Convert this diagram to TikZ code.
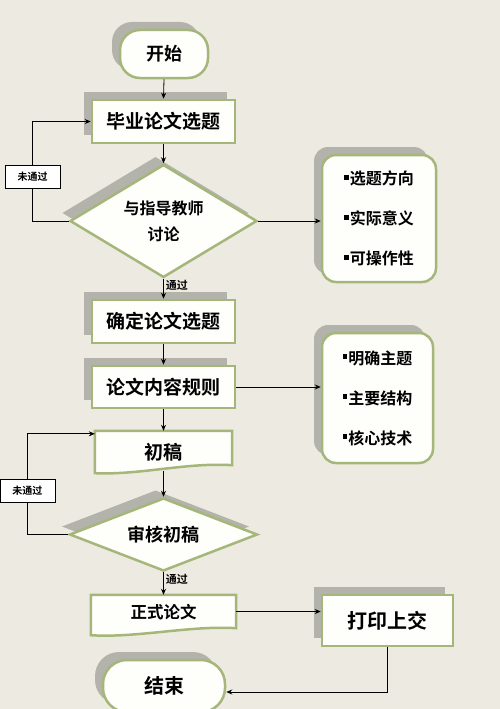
\documentclass[tikz,border=0pt]{standalone}
\usepackage{fontspec}
\setmainfont{Noto Sans CJK SC}[BoldFont={Noto Sans CJK SC Bold}]
\usetikzlibrary{shapes.geometric,shadows,arrows.meta,calc}
\definecolor{bg}{HTML}{EDEBE1}
\definecolor{olive}{HTML}{A5B67A}
\definecolor{shadowgray}{HTML}{B3B3AB}
\definecolor{boxfill}{HTML}{FEFEFA}
\newcommand{\bul}{\rule[0.32em]{0.3em}{0.3em}\hspace{1pt}}
\tikzset{
  shad/.style={drop shadow={shadow xshift=-8pt,shadow yshift=8pt,opacity=1,fill=shadowgray}},
  fsz/.style={font=\bfseries\fontsize{#1}{#1}\selectfont},
  procbox/.style={rectangle,draw=olive,line width=2.5pt,fill=boxfill,shad,inner sep=0pt},
  termbox/.style={procbox,rounded corners=20pt},
  listbox/.style={procbox,rounded corners=14pt,align=left,font=\bfseries\fontsize{16}{40}\selectfont},
  decbox/.style={diamond,draw=olive,line width=2.5pt,fill=boxfill,shad,inner sep=0pt,align=center},
  docnode/.style={rectangle,inner sep=0pt},
  docline/.style={draw=olive,line width=2.5pt,fill=boxfill},
  docshadow/.style={fill=shadowgray},
  arr/.style={-{Stealth[length=6pt,width=5pt]},line width=0.8pt,black},
  conn/.style={line width=0.8pt,black},
  failbox/.style={rectangle,draw=black,line width=0.6pt,fill=white,minimum width=55pt,minimum height=23pt,inner sep=0pt,fsz=10},
  passlab/.style={fsz=11,right,inner sep=2pt}
}
\begin{document}
\begin{tikzpicture}[x=1pt,y=-1pt]
\fill[bg] (0,0) rectangle (500,709);
\useasboundingbox (0,0) rectangle (500,709);

% nodes
\node[termbox,minimum width=88pt,minimum height=48pt,fsz=18] (start) at (164,54) {开始};
\node[procbox,minimum width=143pt,minimum height=43pt,fsz=19] (sel) at (163.5,121.5) {毕业论文选题};
\node[decbox,minimum width=187pt,minimum height=113pt,aspect=1.65,fsz=16] (disc) at (163.5,221) {与指导教师\\[10pt]讨论};
\node[listbox,minimum width=114pt,minimum height=127pt] (r1) at (379,218.5) {\bul 选题方向\\\bul 实际意义\\\bul 可操作性};
\node[procbox,minimum width=143pt,minimum height=43pt,fsz=19] (fix) at (163.5,321.5) {确定论文选题};
\node[procbox,minimum width=143pt,minimum height=42pt,fsz=19] (plan) at (163.5,387) {论文内容规则};
\node[listbox,minimum width=111pt,minimum height=130pt] (r2) at (377.5,398) {\bul 明确主题\\\bul 主要结构\\\bul 核心技术};

% draft document shape
\node[docnode,minimum width=137pt,minimum height=34pt] (draft) at (163.5,448) {};
\fill[docshadow,shift={(-8,-8)}] (draft.north west) -- (draft.north east) -- (draft.south east)
  .. controls ($(draft.south east)+(-45,-3)$) and ($(draft.south west)+(45,10)$) .. ($(draft.south west)+(0,8)$) -- cycle;
\path[docline] (draft.north west) -- (draft.north east) -- (draft.south east)
  .. controls ($(draft.south east)+(-45,-3)$) and ($(draft.south west)+(45,10)$) .. ($(draft.south west)+(0,8)$) -- cycle;
\node[fsz=19] (drafttxt) at ($(draft.center)+(0,4)$) {初稿};

\node[decbox,minimum width=188pt,minimum height=73pt,aspect=2.6,fsz=18] (rev) at (163.5,534.5) {审核初稿};

% formal document shape
\node[docnode,minimum width=145pt,minimum height=33pt] (formal) at (163.5,611.5) {};
\fill[docshadow,shift={(-8,-8)}] (formal.north west) -- (formal.north east) -- (formal.south east)
  .. controls ($(formal.south east)+(-45,-3)$) and ($(formal.south west)+(45,10)$) .. ($(formal.south west)+(0,7)$) -- cycle;
\path[docline] (formal.north west) -- (formal.north east) -- (formal.south east)
  .. controls ($(formal.south east)+(-45,-3)$) and ($(formal.south west)+(45,10)$) .. ($(formal.south west)+(0,7)$) -- cycle;
\node[fsz=16.5] (formaltxt) at ($(formal.center)+(0,1)$) {正式论文};

\node[procbox,minimum width=131pt,minimum height=51pt,fsz=20] (print) at (387.5,620.5) {打印上交};
\node[termbox,minimum width=122pt,minimum height=52pt,rounded corners=24pt,fsz=20] (end) at (164,686) {结束};

% connectors
\draw[arr] (start.south) -- (sel.north);
\draw[arr] (sel.south) -- (disc.north);
\draw[arr] (disc.east) -- (disc.east -| r1.west);
\draw[arr] (disc.south) -- node[passlab,pos=0.35] {通过} (fix.north);
\draw[arr] (fix.south) -- (plan.north);
\draw[arr] (plan.east) -- (plan.east -| r2.west);
\draw[arr] (plan.south) -- (draft.north);
\draw[arr] ($(draft.south)+(0,6)$) -- (rev.north);
\draw[arr] (rev.south) -- node[passlab,pos=0.3] {通过} (formal.north);
\draw[arr] (formal.east) -- (formal.east -| print.west);
\draw[arr] (print.south) |- ([yshift=-6pt]end.east);

% fail loops
\node[failbox] (fail1) at (32.5,177) {未通过};
\node[failbox] (fail2) at (27.5,490.5) {未通过};
\draw[conn] (disc.west) -| (fail1.south);
\draw[arr] (fail1.north) |- (sel.west);
\draw[conn] (rev.west) -| (fail2.south);
\draw[arr] (fail2.north) |- ([yshift=-3pt]draft.north west);
\end{tikzpicture}
\end{document}
